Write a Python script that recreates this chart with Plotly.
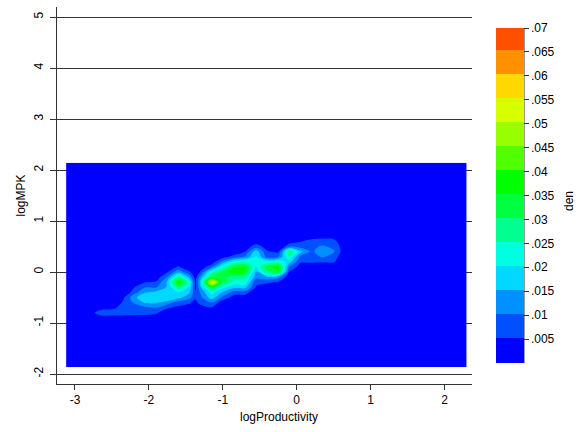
import plotly.graph_objects as go

x_vals = [-3.12, -2.8, -2.65, -2.5, -2.35, -2.2, -2.05, -1.9, -1.75, -1.6, -1.45, -1.37, -1.3, -1.15, -1.0, -0.85,
          -0.7, -0.55, -0.4, -0.25, -0.1, 0.05, 0.2, 0.35, 0.5, 0.65, 2.3]
y_vals = [2.14, 0.8, 0.7, 0.6, 0.5, 0.4, 0.3, 0.2, 0.1, 0.0, -0.1, -0.2, -0.3, -0.4, -0.5, -0.6, -0.7, -0.8, -0.9, -1.0, -1.87]

# density in thousandths; rows run top to bottom, columns left to right
den_rows = [
 [0,0,0,0,0,0,0,0,0,0,0,0,0,0,0,0,0,0,0,0,0,0,0,0,0,0,0],
 [0,0,0,0,0,0,0,0,0,0,0,0,0,0,0,0,0,0,0,0,0,0,2,2,2,0,0],
 [0,0,0,0,0,0,0,0,0,0,0,0,0,0,0,0,0,0,0,0,0,1,3,4,3,0,0],
 [0,0,0,0,0,0,0,0,0,0,0,0,0,0,0,0,0,2,0,0,2,5,7,7,7,1,0],
 [0,0,0,0,0,0,0,0,0,0,0,0,0,0,0,0,2,8,3,0,9,8,9,11,9,2,0],
 [0,0,0,0,0,0,0,0,0,0,0,0,0,0,0,2,5,18,6,4,30,17,9,14,11,2,0],
 [0,0,0,0,0,0,0,0,0,0,0,0,0,0,3,7,11,21,8,10,25,9,8,11,8,1,0],
 [0,0,0,0,0,0,0,0,0,1,0,0,0,2,12,22,25,22,22,24,18,6,6,6,6,0,0],
 [0,0,0,0,0,0,0,0,2,6,1,0,2,9,24,34,36,20,33,38,10,3,2,1,1,0,0],
 [0,0,0,0,0,0,0,0,5,14,6,1,6,24,32,40,36,15,29,34,5,0,0,0,0,0,0],
 [0,0,0,0,0,0,1,2,11,28,14,3,13,33,34,27,26,13,15,12,2,0,0,0,0,0,0],
 [0,0,0,0,0,2,5,6,16,40,23,4,18,56,32,24,24,6,6,5,0,0,0,0,0,0,0],
 [0,0,0,0,0,5,10,10,16,28,19,4,15,34,22,17,17,5,3,1,0,0,0,0,0,0,0],
 [0,0,0,0,0,8,15,17,18,20,16,6,11,22,15,8,8,0,0,0,0,0,0,0,0,0,0],
 [0,0,0,0,4,14,19,20,20,17,12,6,9,18,9,3,2,0,0,0,0,0,0,0,0,0,0],
 [0,0,0,0,6,11,16,16,13,8,6,4,7,10,2,0,0,0,0,0,0,0,0,0,0,0,0],
 [0,0,3,4,7,7,9,10,6,4,3,2,3,5,0,0,0,0,0,0,0,0,0,0,0,0,0],
 [0,3,8,8,8,7,7,6,2,1,0,0,0,1,0,0,0,0,0,0,0,0,0,0,0,0,0],
 [0,0,3,3,3,3,3,2,0,0,0,0,0,0,0,0,0,0,0,0,0,0,0,0,0,0,0],
 [0,0,0,0,0,0,0,0,0,0,0,0,0,0,0,0,0,0,0,0,0,0,0,0,0,0,0],
 [0,0,0,0,0,0,0,0,0,0,0,0,0,0,0,0,0,0,0,0,0,0,0,0,0,0,0],
]

band_colors = ["#0000ff", "#0050ff", "#0090ff", "#00d8ff", "#00ffe0", "#00ff90", "#00ff40",
               "#00ff00", "#50ff00", "#98ff00", "#d8ff00", "#ffd800", "#ff9000", "#ff5000"]
bar_ticks = [.005, .01, .015, .02, .025, .03, .035, .04, .045, .05, .055, .06, .065, .07]
bar_labels = [".005", ".01", ".015", ".02", ".025", ".03", ".035", ".04", ".045", ".05", ".055", ".06", ".065", ".07"]

den = [[v / 1000 for v in row] for row in den_rows]
n = len(band_colors)
scale = []
for i, c in enumerate(band_colors):
    scale += [[i / n, c], [(i + 1) / n, c]]

FONT = "Liberation Sans, Arial, sans-serif"
INK = "#333333"

fig = go.Figure(go.Contour(
    x=x_vals, y=y_vals, z=den,
    zmin=0, zmax=0.07, colorscale=scale,
    autocontour=False,
    contours=dict(start=0.0053, end=0.0653, size=0.005, coloring="fill", showlines=False),
    line=dict(width=0, smoothing=1),
    hoverinfo="skip",
    colorbar=dict(
        thickness=28, thicknessmode="pixels", len=335, lenmode="pixels",
        x=1.058, xanchor="left", y=0.0557, yanchor="bottom", xpad=0, ypad=0,
        outlinewidth=0, tickmode="array", tickvals=bar_ticks, ticktext=bar_labels,
        ticks="outside", ticklen=5, tickwidth=1, tickcolor=INK,
        tickfont=dict(family=FONT, size=12, color="black"),
    ),
))

fig.update_layout(
    width=585, height=432, autosize=False,
    margin=dict(l=57, r=113, t=7, b=48),
    paper_bgcolor="white", plot_bgcolor="white",
    font=dict(family=FONT, size=12, color="black"),
    showlegend=False,
    annotations=[
        dict(text="den", textangle=-90, xref="paper", yref="paper", x=1.255, y=0.485,
             showarrow=False, font=dict(family=FONT, size=12)),
        dict(text="logProductivity", xref="paper", yref="paper", x=0.535, y=-0.0875,
             xanchor="center", yanchor="middle", showarrow=False, font=dict(family=FONT, size=12)),
    ],
    shapes=[dict(type="line", xref="paper", yref="paper", x0=1.1253, x1=1.1253, y0=0.0557, y1=0.944,
                 line=dict(color=INK, width=1))],
)
fig.update_xaxes(range=[-3.243, 2.372], tickmode="array", tickvals=[-3, -2, -1, 0, 1, 2],
                 ticktext=["-3", "-2", "-1", "0", "1", "2"], ticks="outside", ticklen=5, tickcolor=INK,
                 showgrid=False, zeroline=False, showline=True, linecolor=INK, linewidth=1)
fig.update_yaxes(range=[-2.196, 5.196], tickmode="array", tickvals=[-2, -1, 0, 1, 2, 3, 4, 5],
                 ticktext=["-2", "-1", "0", "1", "2", "3", "4", "5"], tickangle=-90, ticks="outside", ticklen=6, tickcolor=INK,
                 ticklabelstandoff=2,
                 showgrid=True, gridcolor=INK, gridwidth=1, zeroline=False, showline=True, linecolor=INK, linewidth=1,
                 title=dict(text="logMPK", standoff=4, font=dict(size=12)))

fig.write_html("out.html", config={"displayModeBar": False}, post_script="document.body.style.margin='0';")
